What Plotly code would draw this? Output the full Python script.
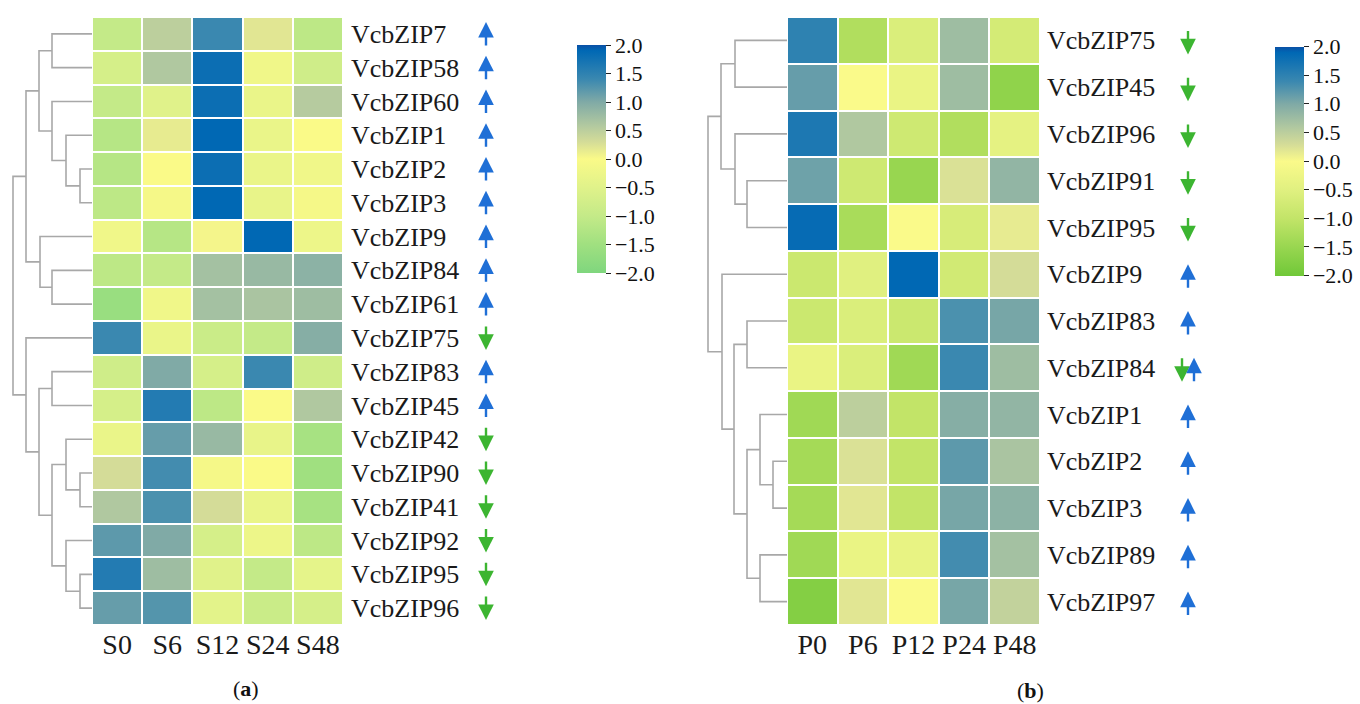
import plotly.graph_objects as go

W, H = 1360, 704

# ---------------- data ----------------
cols_a = ["S0", "S6", "S12", "S24", "S48"]
genes_a = ["VcbZIP7", "VcbZIP58", "VcbZIP60", "VcbZIP1", "VcbZIP2", "VcbZIP3",
           "VcbZIP9", "VcbZIP84", "VcbZIP61", "VcbZIP75", "VcbZIP83", "VcbZIP45",
           "VcbZIP42", "VcbZIP90", "VcbZIP41", "VcbZIP92", "VcbZIP95", "VcbZIP96"]
vals_a = [
    [-1.0, 0.5, 1.4, 0.2, -1.1],
    [-0.7, 0.6, 1.8, -0.2, -0.8],
    [-1.0, -0.5, 1.8, -0.3, 0.55],
    [-1.2, 0.15, 1.9, -0.3, 0.0],
    [-1.2, 0.0, 1.8, -0.3, -0.2],
    [-1.1, -0.1, 1.9, -0.35, -0.1],
    [-0.2, -1.2, 0.05, 1.9, -0.25],
    [-1.1, -1.0, 0.7, 0.8, 0.9],
    [-1.6, -0.2, 0.7, 0.65, 0.75],
    [1.4, -0.3, -0.9, -1.0, 0.95],
    [-0.8, 1.0, -0.7, 1.4, -0.8],
    [-0.7, 1.6, -1.1, 0.0, 0.6],
    [-0.3, 1.15, 0.8, -0.35, -1.4],
    [0.3, 1.35, -0.1, 0.0, -1.5],
    [0.6, 1.3, 0.3, -0.3, -1.4],
    [1.2, 1.0, -0.7, -0.25, -1.1],
    [1.6, 0.75, -0.5, -1.0, -0.4],
    [1.15, 1.25, -0.45, -0.9, -0.7],
]
dir_a = ["up"] * 9 + ["down", "up", "up", "down", "down", "down", "down", "down", "down"]
# linkage: (child1, child2, height); ids >= n are earlier merges
link_a = [(4, 5, 12), (3, 18, 26), (2, 19, 40), (0, 1, 40), (21, 20, 53),
          (7, 8, 40), (6, 23, 52), (22, 24, 66), (13, 14, 12), (12, 26, 26),
          (16, 17, 12), (15, 28, 26), (27, 29, 40), (10, 11, 40), (31, 30, 53),
          (9, 32, 66), (25, 33, 79)]

cols_b = ["P0", "P6", "P12", "P24", "P48"]
genes_b = ["VcbZIP75", "VcbZIP45", "VcbZIP96", "VcbZIP91", "VcbZIP95", "VcbZIP9",
           "VcbZIP83", "VcbZIP84", "VcbZIP1", "VcbZIP2", "VcbZIP3", "VcbZIP89", "VcbZIP97"]
vals_b = [
    [1.5, -1.2, -0.6, 0.75, -0.7],
    [1.15, 0.0, -0.3, 0.75, -1.6],
    [1.65, 0.6, -0.8, -1.2, -0.4],
    [1.1, -0.8, -1.5, 0.25, 0.85],
    [1.85, -1.3, 0.0, -0.65, 0.15],
    [-0.85, -0.5, 1.9, -0.75, 0.3],
    [-0.85, -0.6, -0.85, 1.3, 1.05],
    [-0.3, -0.6, -1.4, 1.4, 0.75],
    [-1.4, 0.5, -1.0, 0.95, 0.85],
    [-1.35, 0.25, -1.0, 1.2, 0.65],
    [-1.35, 0.2, -1.0, 1.05, 0.9],
    [-1.4, -0.3, -0.35, 1.35, 0.7],
    [-1.75, 0.2, 0.0, 1.05, 0.45],
]
dir_b = ["down"] * 5 + ["up", "up", "both", "up", "up", "up", "up", "up"]
link_b = [(0, 1, 52), (3, 4, 40), (2, 14, 52), (13, 15, 66), (6, 7, 40),
          (9, 10, 14), (8, 18, 27), (11, 12, 27), (19, 20, 40), (17, 21, 53),
          (5, 22, 65), (16, 23, 79)]

cbar_ticks = [2.0, 1.5, 1.0, 0.5, 0.0, -0.5, -1.0, -1.5, -2.0]

# ---------------- styles ----------------
FONT = "Liberation Serif, Times New Roman, serif"
BLUE = "#1f6fd6"
GREEN = "#3cb531"
DGREY = "#a8a8a8"

pos_part = [[0.575, "#d4dc98"], [0.65, "#b0c8a0"], [0.75, "#80aaa6"],
            [0.85, "#3a88b0"], [0.975, "#0068b4"], [1.0, "#0a50a6"]]
cs_a = [[0.0, "#7fd67e"], [0.125, "#a0e080"], [0.25, "#c4ea88"],
        [0.375, "#e0f28a"], [0.5, "#fafa88"]] + pos_part
cs_b = [[0.0, "#70c838"], [0.125, "#98d650"], [0.25, "#c2e468"],
        [0.375, "#e0f080"], [0.5, "#fafa8a"]] + pos_part


def dendro_lines(link, n):
    ypos = {i: float(i) for i in range(n)}
    hts = {i: 0.0 for i in range(n)}
    xs, ys = [], []
    for k, (a, b, h) in enumerate(link):
        ya, yb = ypos[a], ypos[b]
        xs += [hts[a], h, h, hts[b], None]
        ys += [ya, ya, yb, yb, None]
        ypos[n + k] = (ya + yb) / 2
        hts[n + k] = h
    return xs, ys


fig = go.Figure()

# geometry (pixels)
top, bot = 17, 625
ya_dom = [1 - bot / H, 1 - top / H]
ha_l, ha_r = 92, 343
hb_l, hb_r = 787, 1040
dend_w = 92

cb_font = dict(family=FONT, size=22, color="#111")
fig.add_trace(go.Heatmap(
    z=vals_a, x=list(range(len(cols_a))), y=list(range(len(genes_a))),
    zmin=-2, zmax=2, colorscale=cs_a, xgap=2, ygap=2,
    xaxis="x", yaxis="y",
    colorbar=dict(x=577 / W, xanchor="left", y=1 - 159 / H, yanchor="middle",
                  len=228 / H, lenmode="fraction", thickness=29, outlinewidth=0,
                  xpad=0, ypad=0,
                  tickvals=cbar_ticks, tickformat=".1f", ticks="outside", ticklen=5,
                  tickcolor="#222", tickfont=cb_font),
))
fig.add_trace(go.Heatmap(
    z=vals_b, x=list(range(len(cols_b))), y=list(range(len(genes_b))),
    zmin=-2, zmax=2, colorscale=cs_b, xgap=2, ygap=2,
    xaxis="x3", yaxis="y2",
    colorbar=dict(x=1275 / W, xanchor="left", y=1 - 161 / H, yanchor="middle",
                  len=229 / H, lenmode="fraction", thickness=29, outlinewidth=0,
                  xpad=0, ypad=0,
                  tickvals=cbar_ticks, tickformat=".1f", ticks="outside", ticklen=5,
                  tickcolor="#222", tickfont=cb_font),
))

xa, yad = dendro_lines(link_a, len(genes_a))
fig.add_trace(go.Scatter(x=xa, y=yad, mode="lines", xaxis="x2", yaxis="y",
                         line=dict(color=DGREY, width=1.6), hoverinfo="skip",
                         showlegend=False))
xb, ybd = dendro_lines(link_b, len(genes_b))
fig.add_trace(go.Scatter(x=xb, y=ybd, mode="lines", xaxis="x4", yaxis="y2",
                         line=dict(color=DGREY, width=1.6), hoverinfo="skip",
                         showlegend=False))

tickfont = dict(family=FONT, size=26, color="#1a1a1a")
xtickfont = dict(family=FONT, size=28, color="#1a1a1a")
fig.update_layout(
    width=W, height=H, margin=dict(l=0, r=0, t=0, b=0, autoexpand=False),
    paper_bgcolor="white", plot_bgcolor="white", showlegend=False,
    xaxis=dict(domain=[ha_l / W, ha_r / W], anchor="y", automargin=False,
               tickvals=list(range(len(cols_a))), ticktext=cols_a,
               showgrid=False, zeroline=False, showline=False, ticks="",
               tickfont=xtickfont, range=[-0.5, len(cols_a) - 0.5]),
    yaxis=dict(domain=ya_dom, anchor="x", side="right", automargin=False,
               tickvals=list(range(len(genes_a))), ticktext=genes_a,
               range=[len(genes_a) - 0.5, -0.5], showgrid=False, zeroline=False,
               ticks="", tickfont=tickfont, ticklabelstandoff=7),
    xaxis2=dict(domain=[0, ha_l / W], anchor="y", range=[dend_w, 0], visible=False),
    xaxis3=dict(domain=[hb_l / W, hb_r / W], anchor="y2", automargin=False,
                tickvals=list(range(len(cols_b))), ticktext=cols_b,
                showgrid=False, zeroline=False, showline=False, ticks="",
                tickfont=xtickfont, range=[-0.5, len(cols_b) - 0.5]),
    yaxis2=dict(domain=ya_dom, anchor="x3", side="right", automargin=False,
                tickvals=list(range(len(genes_b))), ticktext=genes_b,
                range=[len(genes_b) - 0.5, -0.5], showgrid=False, zeroline=False,
                ticks="", tickfont=tickfont, ticklabelstandoff=6),
    xaxis4=dict(domain=[(hb_l - dend_w) / W, hb_l / W], anchor="y2",
                range=[dend_w, 0], visible=False),
)


def add_arrow(xpx, yref, row, kind, xshift=0, yoff=0):
    if kind == "up":
        fig.add_annotation(x=xpx / W, xref="paper", y=row, yref=yref, text="",
                           showarrow=True, ax=0, ay=25, arrowhead=2, arrowsize=1.3,
                           arrowwidth=2.4, arrowcolor=BLUE, yshift=12 - yoff,
                           xshift=xshift)
    else:
        fig.add_annotation(x=xpx / W, xref="paper", y=row, yref=yref, text="",
                           showarrow=True, ax=0, ay=-25, arrowhead=2, arrowsize=1.3,
                           arrowwidth=2.4, arrowcolor=GREEN, yshift=-12 - yoff,
                           xshift=xshift)


for i, d in enumerate(dir_a):
    add_arrow(486, "y", i, d)
for i, d in enumerate(dir_b):
    if d == "both":
        add_arrow(1188, "y2", i, "down", xshift=-6, yoff=2)
        add_arrow(1188, "y2", i, "up", xshift=6, yoff=2)
    else:
        add_arrow(1188, "y2", i, d, yoff=2)

fig.add_annotation(x=246 / W, y=1 - 688 / H, xref="paper", yref="paper",
                   xanchor="center", yanchor="middle",
                   text="(<b>a</b>)", showarrow=False,
                   font=dict(family=FONT, size=22, color="#111"))
fig.add_annotation(x=1030 / W, y=1 - 690 / H, xref="paper", yref="paper",
                   xanchor="center", yanchor="middle",
                   text="(<b>b</b>)", showarrow=False,
                   font=dict(family=FONT, size=22, color="#111"))

fig.write_html("out.html", config={"displayModeBar": False},
               post_script="document.body.style.margin='0';document.body.style.overflow='hidden';")
